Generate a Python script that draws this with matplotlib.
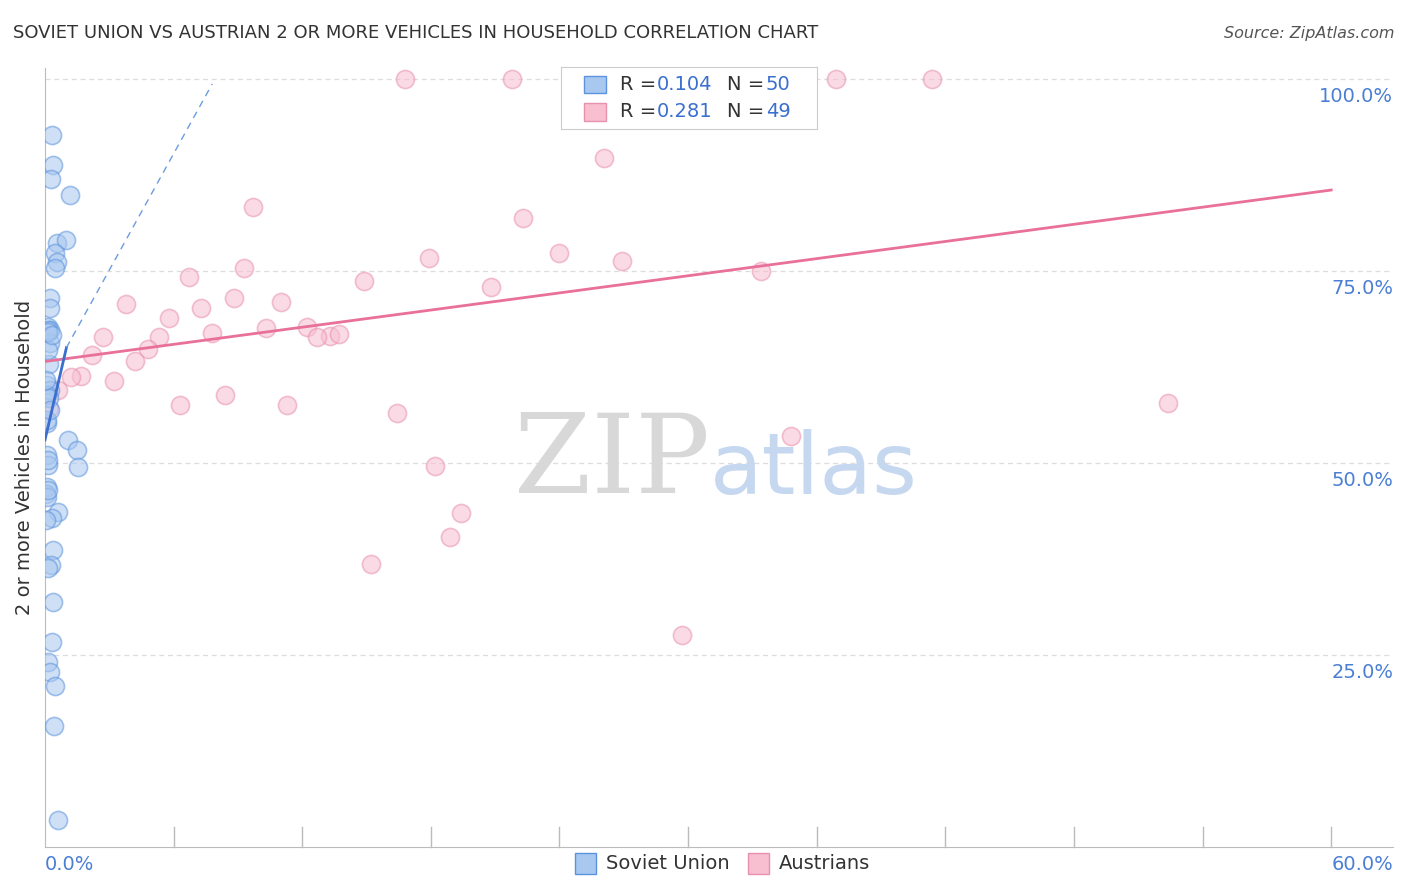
import matplotlib.pyplot as plt
import numpy as np

soviet_x = [0.33, 0.37, 0.28, 1.17, 0.56, 0.98, 0.47, 0.56, 0.47, 0.23, 0.23, 0.14, 0.23, 0.23, 0.14,
            0.19, 0.09, 0.23, 0.09, 0.19, 0.09, 1.07, 1.49, 1.54, 0.09, 0.14, 0.09, 0.05, 0.09, 0.61,
            0.33, 0.37, 0.28, 0.14, 0.37, 0.33, 0.14, 0.23, 0.47, 0.42, 0.61, 0.14, 0.14, 0.09, 0.05,
            0.23, 0.14, 0.33, 0.14, 0.05]
soviet_y = [92.6, 88.7, 87.0, 84.9, 78.6, 79.0, 77.3, 76.2, 75.3, 71.4, 70.2, 67.7, 67.3, 65.6, 67.3,
            62.9, 60.2, 59.5, 58.9, 58.5, 55.2, 53.0, 51.7, 49.5, 51.0, 49.7, 46.9, 46.0, 45.6, 43.6,
            42.8, 38.7, 36.7, 36.3, 31.9, 26.7, 24.1, 22.8, 21.0, 15.8, 3.5, 64.7, 50.4, 55.6, 60.8,
            56.9, 67.1, 66.7, 46.5, 42.6]

austrian_x = [16.8, 21.8, 27.6, 36.9, 41.4, 34.3, 26.1, 9.7, 22.3, 24.0, 17.9, 26.9, 6.7, 9.3, 14.9,
              20.8, 33.4, 8.8, 11.0, 3.8, 7.3, 5.8, 10.3, 12.2, 7.8, 2.7, 5.3, 13.3, 12.7, 13.7,
              4.8, 2.2, 4.2, 1.7, 1.2, 3.2, 8.4, 6.3, 11.3, 16.4, 0.6, 0.2, 52.4, 34.8, 18.2,
              19.4, 18.9, 15.2, 29.7]
austrian_y = [99.9, 99.9, 99.9, 99.9, 99.9, 99.9, 89.7, 83.3, 81.9, 77.3, 76.7, 76.3, 74.2, 75.3, 73.7,
              72.9, 75.0, 71.5, 71.0, 70.7, 70.1, 68.9, 67.6, 67.7, 66.9, 66.4, 66.4, 66.5, 66.4, 66.8,
              64.8, 64.1, 63.3, 61.3, 61.2, 60.7, 58.9, 57.6, 57.6, 56.5, 59.5, 57.2, 57.8, 53.5, 49.6,
              43.5, 40.4, 36.8, 27.6]

pink_line_x = [0, 60]
pink_line_y = [63.2, 85.5]
blue_solid_x = [0, 1.0]
blue_solid_y = [53.0, 65.0]
blue_dash_x = [1.0, 7.8]
blue_dash_y = [65.0, 99.3]

blue_face, blue_edge = "#a9c8f0", "#5b93dd"
pink_face, pink_edge = "#f7bfd0", "#e890ae"

fig = plt.figure(figsize=(14.06, 8.92), dpi=100)
ax = fig.add_axes([0.032, 0.050, 0.959, 0.874])
ax.set_xlim(0, 62.9)
ax.set_ylim(0, 101.4)

for v in [25, 50, 75, 100]:
    ax.axhline(v, color="#dddddd", lw=0.9, ls=(0, (4, 3)), zorder=0)

ax.scatter(soviet_x, soviet_y, s=170, color=blue_face, edgecolor=blue_edge, alpha=0.55, lw=1.2, zorder=3)
ax.scatter(austrian_x, austrian_y, s=170, color=pink_face, edgecolor=pink_edge, alpha=0.55, lw=1.2, zorder=2)
ax.plot(pink_line_x, pink_line_y, color="#e8709a", lw=2, zorder=4)
ax.plot(blue_solid_x, blue_solid_y, color="#3a6fd0", lw=2, zorder=5)
ax.plot(blue_dash_x, blue_dash_y, color="#6b9be0", lw=1, ls=(0, (5, 4)), zorder=5)

for s in ["top", "right"]:
    ax.spines[s].set_visible(False)
for s in ["left", "bottom"]:
    ax.spines[s].set_color("#bbbbbb")
ax.set_xticks([])
ax.set_yticks([])
for xv in np.arange(6, 61, 6):
    ax.plot([xv, xv], [0, 2.6], color="#bbbbbb", lw=1, clip_on=False)

for v in [25, 50, 75, 100]:
    ax.text(62.9, v - 2.3, f"{v:.1f}%", ha="right", va="center", color="#4a7fd4", fontsize=14)
ax.text(0, -2.2, "0.0%", ha="left", va="center", color="#4a7fd4", fontsize=14)
ax.text(62.9, -2.2, "60.0%", ha="right", va="center", color="#4a7fd4", fontsize=14)
ax.set_ylabel("2 or more Vehicles in Household", fontsize=14, color="#333333", labelpad=8)

ax.text(31, 50, "ZIP", fontsize=80, color="#d8d8d8", ha="right", va="center", family="DejaVu Serif")
ax.text(31, 49, "atlas", fontsize=62, color="#c5d8f0", ha="left", va="center")

fig.text(0.009, 0.963, "SOVIET UNION VS AUSTRIAN 2 OR MORE VEHICLES IN HOUSEHOLD CORRELATION CHART",
         fontsize=13, color="#333333", va="center")
fig.text(0.992, 0.963, "Source: ZipAtlas.com", fontsize=11.5, color="#555555", ha="right", va="center",
         style="italic")

# top legend box
lg = fig.add_axes([0.399, 0.855, 0.182, 0.07])
lg.set_xlim(0, 1); lg.set_ylim(0, 1)
lg.set_xticks([]); lg.set_yticks([])
for s in lg.spines.values():
    s.set_color("#cccccc")
rows = [(0.72, blue_face, blue_edge, "0.104", "50"), (0.28, pink_face, pink_edge, "0.281", "49")]
for yy, fc, ec, r, n in rows:
    lg.add_patch(plt.Rectangle((0.09, yy - 0.14), 0.085, 0.28, facecolor=fc, edgecolor=ec, lw=1))
    lg.text(0.23, yy, "R =", fontsize=14, color="#333333", va="center")
    lg.text(0.375, yy, r, fontsize=14, color="#3a6fd0", va="center")
    lg.text(0.65, yy, "N =", fontsize=14, color="#333333", va="center")
    lg.text(0.80, yy, n, fontsize=14, color="#3a6fd0", va="center")

# bottom legend
for x0, fc, ec, lab in [(0.409, blue_face, blue_edge, "Soviet Union"), (0.532, pink_face, pink_edge, "Austrians")]:
    fig.patches.append(plt.Rectangle((x0, 0.020), 0.015, 0.024, facecolor=fc, edgecolor=ec, lw=1,
                                     transform=fig.transFigure, figure=fig))
    fig.text(x0 + 0.022, 0.032, lab, fontsize=14, color="#333333", va="center")

fig.savefig("out.png", dpi=100)
